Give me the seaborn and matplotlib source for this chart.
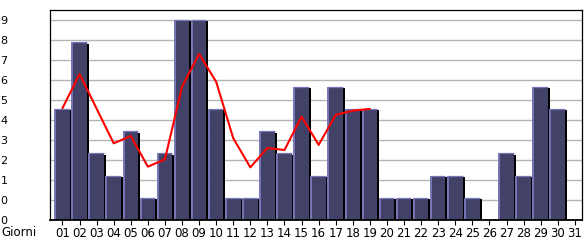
import matplotlib
matplotlib.use("Agg")
import matplotlib.pyplot as plt
import numpy as np
import pandas as pd
import seaborn as sns
from matplotlib.transforms import ScaledTranslation

# ---- data ----
days = ["01", "02", "03", "04", "05", "06", "07", "08", "09", "10", "11", "12", "13", "14", "15", "16",
        "17", "18", "19", "20", "21", "22", "23", "24", "25", "26", "27", "28", "29", "30", "31"]
counts = [5, 8, 3, 2, 4, 1, 3, 9, 9, 5, 1, 1, 4, 3, 6, 2, 6, 5, 5, 1, 1, 1, 2, 2, 1, 0, 3, 2, 6, 5, 0]
trend_days = ["01", "02", "03", "04", "05", "06", "07", "08", "09", "10", "11", "12", "13", "14", "15",
              "16", "17", "18", "19"]
trend = [5.03, 6.57, 5.01, 3.45, 3.78, 2.40, 2.73, 6.0, 7.47, 6.22, 3.68, 2.37, 3.24, 3.15, 4.65,
         3.38, 4.73, 4.92, 5.0]
ytick_values = [0.0, 0.9, 1.8, 2.7, 3.6, 4.5, 5.4, 6.3, 7.2, 8.1, 9.0]
ytick_labels = ["0", "0", "1", "2", "3", "4", "5", "6", "7", "8", "9"]
x_label = "Giorni"

BAR = "#424268"
HIGHLIGHT = "#7676b6"
GRID = "#b4b4b4"

sns.set_theme(style="white")
plt.rcParams["font.family"] = ["DejaVu Sans"]

fig = plt.figure(figsize=(5.85, 2.40), dpi=100)
ax = fig.add_axes([50 / 585, 20 / 240, 532 / 585, 210 / 240])

df = pd.DataFrame({"day": days, "count": counts})

# shadow bars
sns.barplot(data=df, x="day", y="count", color="black", saturation=1, width=0.85,
            ax=ax, zorder=2, errorbar=None)
shadow_patches = list(ax.patches)
off = ScaledTranslation(2 / 100, -1.5 / 100, fig.dpi_scale_trans)
for p in shadow_patches:
    p.set_transform(ax.transData + off)
    p.set_linewidth(0)

# main bars
sns.barplot(data=df, x="day", y="count", color=BAR, saturation=1, width=0.85,
            ax=ax, zorder=3, errorbar=None)
main_patches = ax.patches[len(shadow_patches):]
for p in main_patches:
    p.set_linewidth(0)
    x0 = p.get_x()
    x1 = x0 + p.get_width()
    h = p.get_height()
    ax.plot([x0, x0], [0, h], color=HIGHLIGHT, lw=1.4, zorder=4, solid_capstyle="butt")
    ax.plot([x0, x1], [h, h], color=HIGHLIGHT, lw=0.9, zorder=4, solid_capstyle="butt")

# trend line
pos = [days.index(d) for d in trend_days]
sns.lineplot(x=pos, y=trend, color="#ff0000", lw=1.5, ax=ax, zorder=6)

# axes
ax.set_xlim(-0.73, 30.42)
ax.set_ylim(0, 9.45)
ax.set_yticks(ytick_values)
ax.set_yticklabels(ytick_labels)
ax.set_xticks(range(len(days)))
ax.set_xticklabels(days)
ax.set_xlabel("")
ax.set_ylabel("")
ax.grid(axis="y", color=GRID, lw=1.0)
ax.grid(axis="x", visible=False)
ax.set_axisbelow(True)
for s in ax.spines.values():
    s.set_visible(True)
    s.set_color("black")
    s.set_linewidth(0.9)
ax.spines["bottom"].set_linewidth(1.3)
ax.spines["bottom"].set_zorder(7)
ax.tick_params(axis="y", length=0, pad=30.5, labelsize=8, colors="black")
ax.tick_params(axis="x", length=3.5, width=0.8, pad=1.5, labelsize=8.5, colors="black", bottom=True,
               direction="out")
for lbl in ax.get_yticklabels():
    lbl.set_verticalalignment("center_baseline")

fig.text(1 / 585, 1 - 233 / 240, x_label, ha="left", va="center", fontsize=8.5, color="black")

fig.savefig("out.png", dpi=100, facecolor="white")
